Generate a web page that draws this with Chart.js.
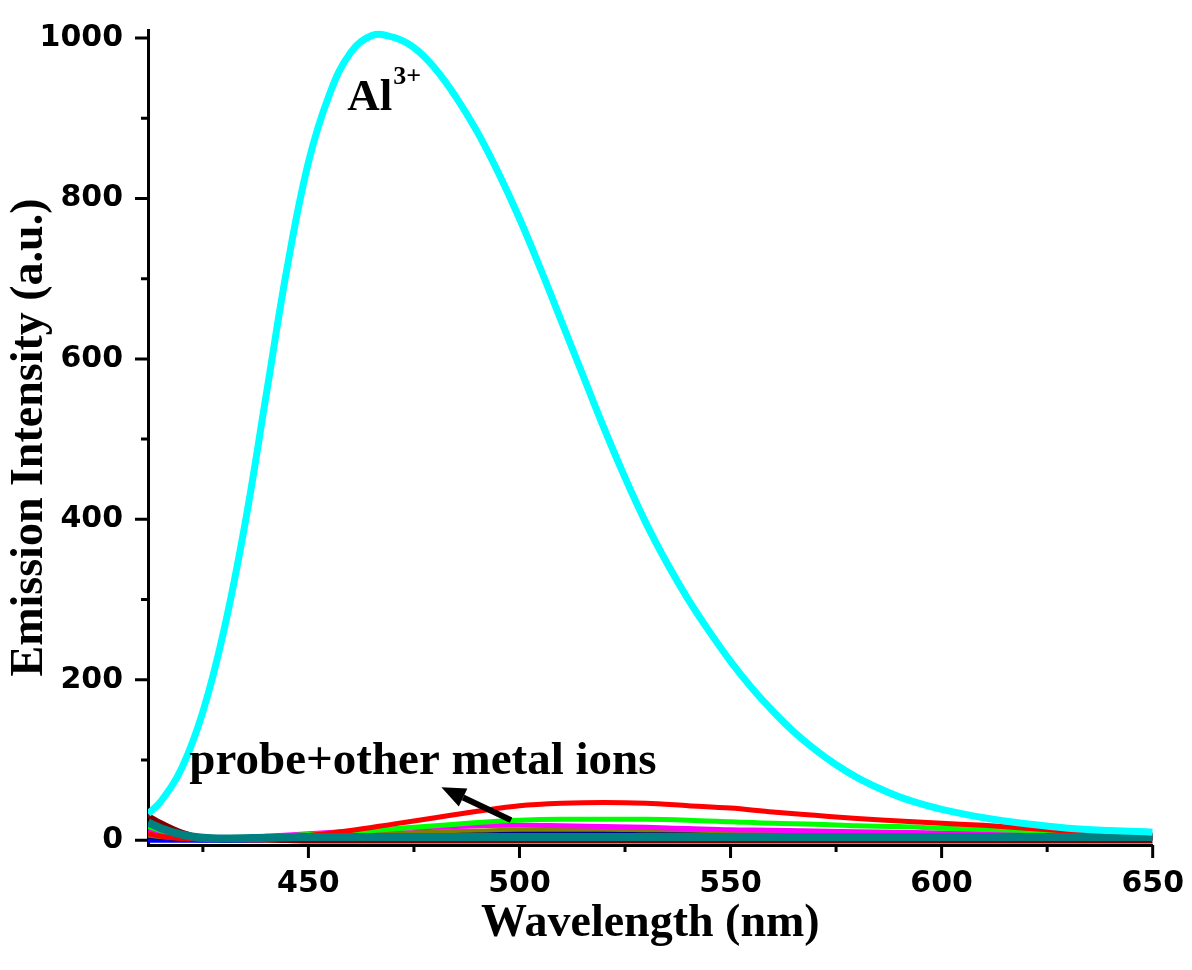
<!DOCTYPE html>
<html>
<head>
<meta charset="utf-8">
<script src="https://cdn.jsdelivr.net/npm/chart.js@4.4.1/dist/chart.umd.min.js"></script>
<style>
  html, body { margin: 0; padding: 0; background: #fff; }
  canvas { display: block; }
</style>
</head>
<body>
<canvas id="spectra" width="1192" height="970"></canvas>
<script>
// wavelengths (nm) for the Al3+ spectrum
const wlFine = [412, 415, 420, 425, 430, 435, 440, 445, 450, 455, 460, 465, 470, 475, 480, 485, 490, 495, 500, 505,
  510, 515, 520, 525, 530, 535, 540, 545, 550, 555, 560, 565, 570, 575, 580, 585, 590, 595, 600, 610, 620, 630, 640, 650];
const al3 = [33, 48, 90, 160, 262, 395, 555, 715, 845, 930, 982, 1003, 1001, 988, 962, 926, 883, 832, 775, 712,
  646, 580, 514, 452, 395, 345, 300, 260, 223, 190, 161, 135, 113, 94, 78, 65, 54, 45.5, 38.5, 28, 20.5, 15, 12, 10];

// wavelengths for the probe + other metal ions spectra
const wlCoarse = [412, 415, 420, 425, 430, 440, 450, 460, 470, 480, 490, 500, 510, 520, 530, 540, 550, 560, 570, 580, 590, 600, 610, 620, 630, 640, 650];
const redIon     = [8, 5, 2, 1, 1, 3, 6, 12, 20, 28, 36, 43, 46, 47, 46, 43, 40, 35, 31, 27, 24, 21, 18.5, 15, 11, 8, 5];
const greenIon   = [17, 12, 6, 3, 2, 4, 7, 10, 14, 18, 22, 25, 26, 26, 26, 25, 23, 21, 20, 18, 17, 15, 13.5, 12, 10, 8, 6];
const magentaIon = [10, 7, 3, 2, 2, 5, 8, 11, 14, 16, 18, 18.5, 18, 17, 16, 14.5, 13, 12.5, 11.5, 10.5, 10, 9, 8, 7.5, 7, 6.5, 6];
const oliveIon   = [6, 4, 2, 1, 1, 3, 5, 7, 9, 11, 12, 13, 13, 13, 12.5, 12, 11, 10.5, 10, 9, 8.5, 8, 7.5, 7, 6.5, 6, 5.5];
const navyIon    = [4, 3, 1, 0, 0, 2, 4, 6, 8, 9, 10, 10, 10, 9.5, 9, 8.5, 8, 7.5, 7, 6.5, 6, 6, 5.5, 5, 5, 4.5, 4.5];
const purpleIon  = [12, 8, 3, 1, 1, 2, 3, 4, 5, 5, 6, 6, 6, 6, 6, 6, 6, 6, 6, 6, 6, 6, 6, 6, 6, 6, 6];
const blueIon    = [0, 0, 0, 0, 0, 1, 2, 2, 3, 3, 3, 3, 3, 3, 3, 3, 3, 3, 3, 3, 3, 3, 3, 3, 3, 3, 3];
const wineIon    = [31, 22, 10, 3, 0, 0, -1, -1, -1, -1, -1, -1, -1, -1, -1, -1, -1, -1, -1, -1, -1, -1, -1, -1, -1, -1, -1];
const tealIon    = [22, 15, 7, 3, 2, 3, 4, 4, 4, 4, 4, 4, 4, 4, 4, 4, 4, 4, 4, 4, 4, 4, 4, 4, 4, 4, 4];

// axis ticks
const xMajor = [450, 500, 550, 600, 650];
const xMinor = [425, 475, 525, 575, 625];
const yMajor = [0, 200, 400, 600, 800, 1000];
const yMinor = [100, 300, 500, 700, 900];

function pts(xs, ys) {
  return xs.map((x, i) => ({ x: x, y: ys[i] }));
}

function line(data, color, width, smooth) {
  const ds = {
    data: data,
    borderColor: color,
    borderWidth: width,
    pointRadius: 0,
    fill: false,
    borderJoinStyle: 'round'
  };
  if (smooth) ds.tension = 0.4;
  else ds.cubicInterpolationMode = 'monotone';
  return ds;
}

// minor/major tick marks, and the text + arrow annotations
const extras = {
  id: 'extras',
  afterDraw(chart) {
    const ctx = chart.ctx;
    const xs = chart.scales.x;
    const ys = chart.scales.y;
    const area = chart.chartArea;
    ctx.save();
    ctx.strokeStyle = '#000';
    ctx.lineWidth = 3;
    ctx.beginPath();
    xMajor.forEach(v => { const p = xs.getPixelForValue(v); ctx.moveTo(p, area.bottom); ctx.lineTo(p, area.bottom + 13); });
    xMinor.forEach(v => { const p = xs.getPixelForValue(v); ctx.moveTo(p, area.bottom); ctx.lineTo(p, area.bottom + 7); });
    yMajor.forEach(v => { const p = ys.getPixelForValue(v); ctx.moveTo(area.left, p); ctx.lineTo(area.left - 13, p); });
    yMinor.forEach(v => { const p = ys.getPixelForValue(v); ctx.moveTo(area.left, p); ctx.lineTo(area.left - 7, p); });
    ctx.stroke();

    // labels
    ctx.fillStyle = '#000';
    ctx.textBaseline = 'alphabetic';
    ctx.textAlign = 'left';
    ctx.font = "bold 45px 'Liberation Serif', 'Times New Roman', serif";
    const alX = xs.getPixelForValue(459.2);
    const alY = ys.getPixelForValue(910);
    ctx.fillText('Al', alX, alY);
    const alW = ctx.measureText('Al').width;
    ctx.font = "bold 26px 'Liberation Serif', 'Times New Roman', serif";
    ctx.fillText('3+', alX + alW + 1, alY - 26);

    ctx.font = "bold 47px 'Liberation Serif', 'Times New Roman', serif";
    ctx.fillText('probe+other metal ions', xs.getPixelForValue(421.8), ys.getPixelForValue(82));

    // arrow
    const tx = xs.getPixelForValue(498), ty = ys.getPixelForValue(25);
    const hx = xs.getPixelForValue(481.5), hy = ys.getPixelForValue(66);
    const ang = Math.atan2(hy - ty, hx - tx);
    const headLen = 24, headW = 10;
    const bx = hx - headLen * Math.cos(ang), by = hy - headLen * Math.sin(ang);
    ctx.lineWidth = 6;
    ctx.beginPath();
    ctx.moveTo(tx, ty);
    ctx.lineTo(bx, by);
    ctx.stroke();
    ctx.beginPath();
    ctx.moveTo(hx, hy);
    ctx.lineTo(bx + headW * Math.sin(ang), by - headW * Math.cos(ang));
    ctx.lineTo(bx - headW * Math.sin(ang), by + headW * Math.cos(ang));
    ctx.closePath();
    ctx.fill();
    ctx.restore();
  }
};

const tickFont = { family: "'DejaVu Sans', Arial, sans-serif", size: 30, weight: 'bold' };
const titleFont = { family: "'Liberation Serif', 'Times New Roman', serif", size: 46, weight: 'bold' };

new Chart(document.getElementById('spectra'), {
  type: 'line',
  data: {
    datasets: [
      line(pts(wlFine, al3), '#00FFFF', 7, true),
      line(pts(wlCoarse, tealIon), '#008080', 8),
      line(pts(wlCoarse, redIon), '#FF0000', 5),
      line(pts(wlCoarse, greenIon), '#00FF00', 5),
      line(pts(wlCoarse, magentaIon), '#FF00FF', 5),
      line(pts(wlCoarse, oliveIon), '#808000', 4),
      line(pts(wlCoarse, navyIon), '#000080', 4),
      line(pts(wlCoarse, purpleIon), '#800080', 5),
      line(pts(wlCoarse, blueIon), '#0000FF', 5),
      line(pts(wlCoarse, wineIon), '#800000', 5)
    ]
  },
  options: {
    responsive: false,
    animation: false,
    layout: { padding: { top: 27, right: 37, left: 0, bottom: 0 } },
    plugins: {
      legend: { display: false },
      tooltip: { enabled: false }
    },
    scales: {
      x: {
        type: 'linear',
        min: 412,
        max: 650,
        afterBuildTicks: s => { s.ticks = xMajor.map(v => ({ value: v })); },
        afterFit: s => { s.height = 125; },
        grid: { display: false, drawTicks: true, tickLength: 13 },
        border: { display: true, color: '#000', width: 3 },
        ticks: { color: '#000', font: tickFont, padding: 8, maxRotation: 0, callback: v => String(v) },
        title: { display: true, text: 'Wavelength (nm)', color: '#000', font: titleFont, padding: { top: 0, bottom: 18 } }
      },
      y: {
        type: 'linear',
        min: -6,
        max: 1010,
        afterBuildTicks: s => { s.ticks = yMajor.map(v => ({ value: v })); },
        afterFit: s => { s.width = 148; },
        grid: { display: false, drawTicks: true, tickLength: 13 },
        border: { display: true, color: '#000', width: 3 },
        ticks: { color: '#000', font: tickFont, padding: 12, callback: v => String(v) },
        title: { display: true, text: 'Emission Intensity (a.u.)', color: '#000', font: titleFont, padding: { top: 3, bottom: 0 } }
      }
    }
  },
  plugins: [extras]
});
</script>
</body>
</html>
